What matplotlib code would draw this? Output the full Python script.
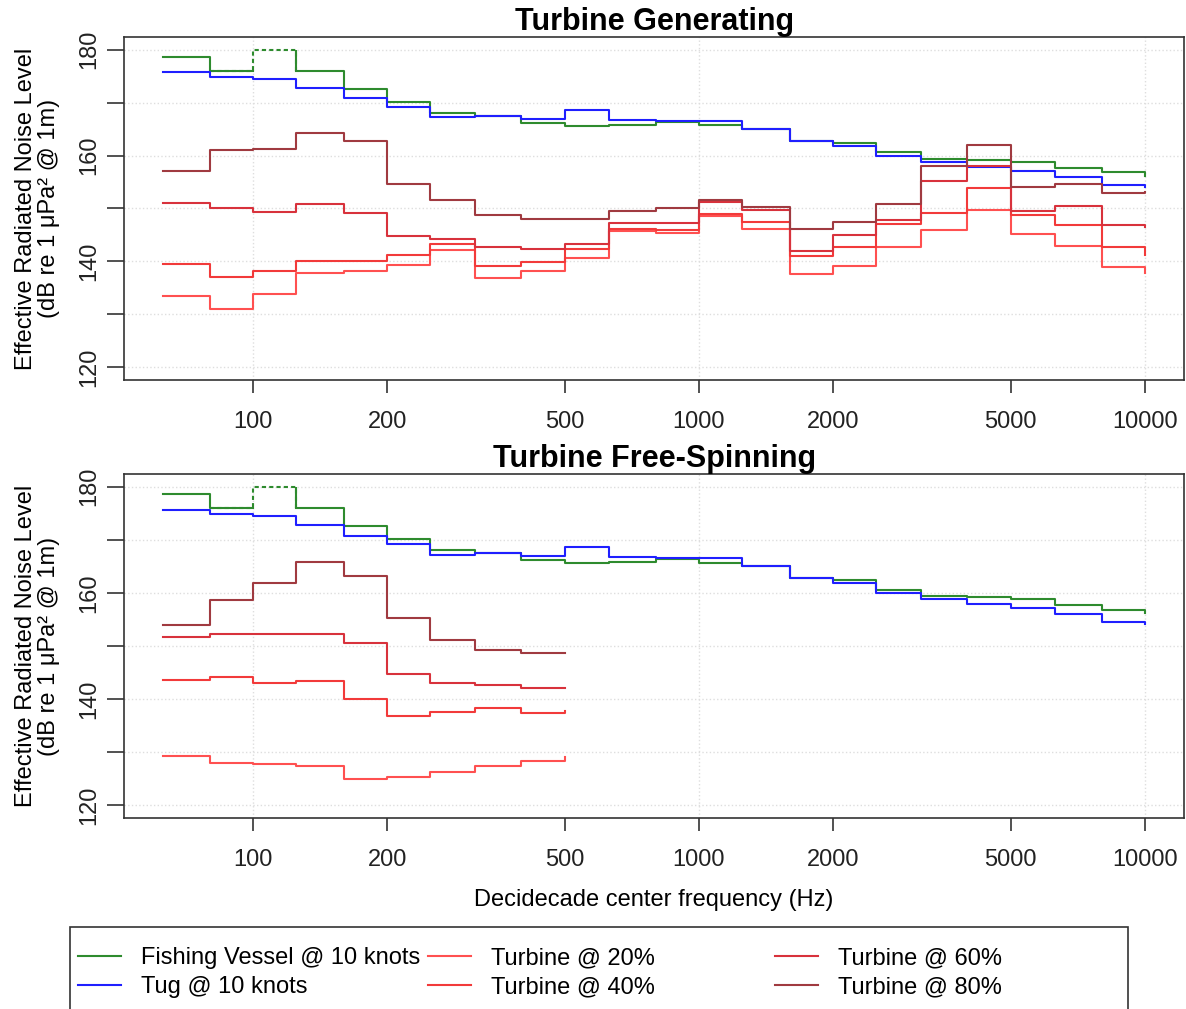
import numpy as np
import matplotlib.pyplot as plt
from matplotlib.patches import Rectangle

plt.rcParams['font.family'] = ['Liberation Sans', 'DejaVu Sans']

# decidecade band centre frequencies (Hz)
freq = [63, 80, 100, 125, 160, 200, 250, 315, 400, 500, 630, 800, 1000,
        1250, 1600, 2000, 2500, 3150, 4000, 5000, 6300, 8000, 10000]

# vessels (same in both panels), dB re 1 uPa^2 @ 1m
fishing = [178.6, 175.9, 180.0, 176.0, 172.5, 170.2, 168.1, 167.5, 166.1, 165.6,
           165.8, 166.4, 165.7, 165.1, 162.8, 162.4, 160.6, 159.4, 159.2, 158.8,
           157.7, 156.8, 156.2]
tug = [175.7, 174.8, 174.5, 172.8, 170.8, 169.2, 167.2, 167.5, 166.9, 168.6,
       166.8, 166.5, 166.5, 165.0, 162.8, 161.8, 160.0, 158.8, 157.9, 157.1,
       156.0, 154.5, 154.1]
fishing_dashed = 2  # band index drawn dashed (capped at 180)

# turbine generating
gen_20 = [133.5, 131.1, 133.8, 137.8, 138.1, 139.3, 142.1, 136.8, 138.2, 140.7,
          145.7, 145.4, 148.6, 146.2, 137.7, 139.1, 142.7, 146.0, 149.8, 145.2,
          143.0, 138.9, 137.9]
gen_40 = [139.6, 137.0, 138.1, 140.1, 140.0, 141.3, 143.3, 139.1, 139.8, 142.4,
          146.2, 146.0, 149.0, 147.5, 141.0, 142.8, 147.1, 149.2, 153.8, 148.7,
          146.9, 142.8, 141.3]
gen_60 = [151.1, 150.1, 149.4, 150.9, 149.2, 144.8, 144.3, 142.8, 142.3, 143.3,
          147.3, 147.3, 151.3, 149.8, 142.0, 145.0, 147.8, 155.2, 158.0, 149.5,
          150.4, 146.9, 146.5]
gen_80 = [157.0, 161.1, 161.3, 164.2, 162.8, 154.7, 151.6, 148.7, 148.0, 148.0,
          149.5, 150.0, 151.6, 150.3, 146.2, 147.5, 150.9, 158.1, 162.0, 154.0,
          154.7, 153.0, 153.1]

# turbine free-spinning (63 - 500 Hz only)
free_20 = [129.2, 128.0, 127.8, 127.3, 125.0, 125.3, 126.2, 127.4, 128.4, 129.1]
free_40 = [143.6, 144.1, 143.1, 143.4, 140.0, 136.9, 137.5, 138.4, 137.3, 137.8]
free_60 = [151.7, 152.3, 152.2, 152.3, 150.6, 144.7, 143.0, 142.7, 142.0, 142.0]
free_80 = [154.0, 158.6, 161.8, 165.9, 163.2, 155.2, 151.2, 149.3, 148.7, 148.7]

xticks = [100, 200, 500, 1000, 2000, 5000, 10000]
xgrid = [100, 1000, 10000]
yticks = [120, 130, 140, 150, 160, 170, 180]

col_fish = '#2e8b2e'
col_tug = '#1f1fff'
col_t = ['#ff5050', '#f23a3a', '#d8323c', '#a03a40']
turb_labels = ['Turbine @ 20%', 'Turbine @ 40%', 'Turbine @ 60%', 'Turbine @ 80%']

fig = plt.figure(figsize=(11.86, 10.09), dpi=100)
ax1 = fig.add_axes([0.1046, 0.6234, 0.8938, 0.340])
ax2 = fig.add_axes([0.1046, 0.1893, 0.8938, 0.341])

lw = 1.5


def draw_panel(ax, turbines, title):
    for g in xgrid:
        ax.axvline(g, color='#dedede', ls=':', lw=1, zorder=0)
    for yv in yticks:
        ax.axhline(yv, color='#dedede', ls=':', lw=1, zorder=0)

    # fishing vessel: solid except the capped band
    k = fishing_dashed
    solid = list(fishing)
    solid[k] = np.nan
    hf, = ax.plot(freq, solid, drawstyle='steps-post', color=col_fish, lw=lw)
    ax.plot(freq[k - 1:k + 2], fishing[k - 1:k + 2], drawstyle='steps-post',
            color=col_fish, lw=lw, ls=(0, (2, 1.5)))
    ax.vlines(freq[k + 1], fishing[k + 1], fishing[k], color=col_fish, lw=lw)

    ht, = ax.plot(freq, tug, drawstyle='steps-post', color=col_tug, lw=lw)

    hs = []
    for vals, c in zip(turbines, col_t):
        h, = ax.plot(freq[:len(vals)], vals, drawstyle='steps-post', color=c, lw=lw)
        hs.append(h)

    ax.set_xscale('log')
    ax.set_xlim(63 / 10 ** 0.088, 10000 * 10 ** 0.088)
    ax.set_ylim(117.6, 182.4)
    ax.set_xticks(xticks)
    ax.set_xticklabels([str(t) for t in xticks])
    ax.xaxis.set_minor_locator(plt.NullLocator())
    ax.set_yticks(yticks)
    ax.set_yticklabels([str(t) if t % 20 == 0 else '' for t in yticks])
    ax.tick_params(axis='x', length=9, width=1.1, pad=13, labelsize=17,
                   colors='#222222')
    ax.tick_params(axis='y', length=12, width=1.1, pad=5, labelsize=17,
                   labelrotation=90, colors='#222222')
    for lab in ax.get_yticklabels():
        lab.set_va('center')
    for s in ax.spines.values():
        s.set_linewidth(1.2)
        s.set_color('#333333')
    ax.set_ylabel('Effective Radiated Noise Level\n(dB re 1 μPa² @ 1m)',
                  fontsize=17, linespacing=1.1)
    ax.yaxis.set_label_coords(-0.06, 0.5)
    ax.set_title(title, fontsize=22, fontweight='bold', pad=1)
    return [hf, ht] + hs


handles = draw_panel(ax1, [gen_20, gen_40, gen_60, gen_80], 'Turbine Generating')
draw_panel(ax2, [free_20, free_40, free_60, free_80], 'Turbine Free-Spinning')

ax2.set_xlabel('Decidecade center frequency (Hz)', fontsize=17)
ax2.xaxis.set_label_coords(0.5, -0.205)

labels = ['Fishing Vessel @ 10 knots', 'Tug @ 10 knots'] + turb_labels
col_x = [0.0658, 0.3609, 0.6535]
for i, x in enumerate(col_x):
    fig.legend(handles[2 * i:2 * i + 2], labels[2 * i:2 * i + 2],
               loc='upper left', bbox_to_anchor=(x, 0.0615), frameon=False,
               borderpad=0, borderaxespad=0, handlelength=1.8,
               handletextpad=0.85, labelspacing=0.3, fontsize=17)

fig.add_artist(Rectangle((70 / 1186, -0.05), (1128 - 70) / 1186,
                         0.05 + (1009 - 927) / 1009, transform=fig.transFigure,
                         fill=False, lw=1.2, edgecolor='#333333'))

fig.savefig('out.png', dpi=100)
